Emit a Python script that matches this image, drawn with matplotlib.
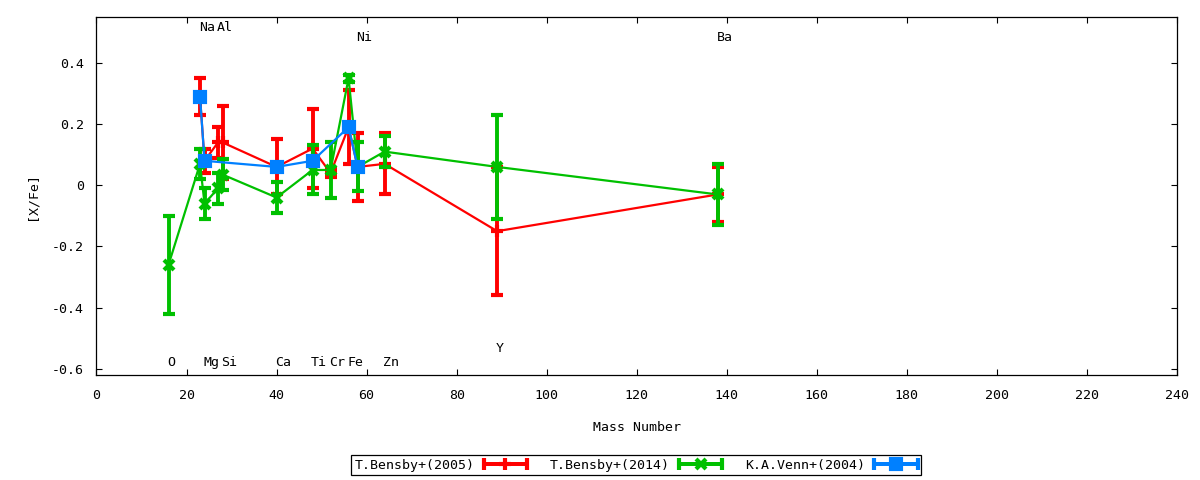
import matplotlib
matplotlib.use('Agg')
import matplotlib.pyplot as plt
from matplotlib.lines import Line2D
from matplotlib.legend_handler import HandlerLine2D

plt.rcParams['font.family'] = ['DejaVu Sans Mono']
plt.rcParams['font.size'] = 9.5

# Bensby 2005
mass_b05 = [23, 24, 27, 28, 40, 48, 52, 56, 58, 64, 89, 138]
val_b05 = [0.29, 0.08, 0.14, 0.14, 0.06, 0.12, 0.04, 0.19, 0.06, 0.07, -0.15, -0.03]
err_b05 = [0.06, 0.04, 0.05, 0.12, 0.09, 0.13, 0.012, 0.12, 0.11, 0.10, 0.21, 0.09]

# Bensby 2014
mass_b14 = [16, 23, 24, 27, 28, 40, 48, 52, 56, 58, 64, 89, 138]
val_b14 = [-0.26, 0.07, -0.06, -0.01, 0.035, -0.04, 0.05, 0.05, 0.35, 0.06, 0.11, 0.06, -0.03]
err_b14 = [0.16, 0.05, 0.05, 0.05, 0.05, 0.05, 0.08, 0.09, 0.012, 0.08, 0.05, 0.17, 0.10]

# Venn 2004
mass_v04 = [23, 24, 40, 48, 56, 58]
val_v04 = [0.29, 0.08, 0.06, 0.08, 0.19, 0.06]
err_v04 = [0, 0, 0, 0, 0, 0]

# element labels
el_names = ['Na', 'Al', 'Ni', 'Ba', 'O', 'Mg', 'Si', 'Ca', 'Ti', 'Cr', 'Fe', 'Zn', 'Y']
el_mass = [23, 27, 58, 138, 16, 24, 28, 40, 48, 52, 56, 64, 89]
el_y = [0.516, 0.516, 0.484, 0.484, -0.58, -0.58, -0.58, -0.58, -0.58, -0.58, -0.58, -0.58, -0.534]

series = [
    ('T.Bensby+(2005)', mass_b05, val_b05, err_b05, '#ff0000', '+', 8),
    ('T.Bensby+(2014)', mass_b14, val_b14, err_b14, '#00c000', 'x', 6.5),
    ('K.A.Venn+(2004)', mass_v04, val_v04, err_v04, '#0080ff', 's', 7),
]

fig = plt.figure(figsize=(12, 4.8), dpi=100)
ax = fig.add_axes([0.0804, 0.2188, 0.9004, 0.7458])

handles = []
hmap = {}
for i, (lab, m, v, e, c, mk, ms) in enumerate(series):
    ax.errorbar(m, v, yerr=e, color=c, lw=1.6, elinewidth=2.8, capsize=4,
                capthick=2.8, marker=mk, ms=ms, mew=3, mec=c, mfc=c,
                zorder=3 + i)
    caps = Line2D([], [], color=c, lw=2.8, marker='|', ms=9, mew=3)
    mid = Line2D([], [], color=c, lw=2.8, marker=mk, ms=ms, mew=3)
    hmap[caps] = HandlerLine2D(numpoints=2, marker_pad=0)
    hmap[mid] = HandlerLine2D(numpoints=1)
    handles.append((caps, mid))

for name, mx, my in zip(el_names, el_mass, el_y):
    ax.text(mx - 0.3, my, name, ha='left', va='center', fontsize=9.5)

ax.set_xlim(0, 240)
ax.set_ylim(-0.62, 0.55)
ax.set_xticks(range(0, 241, 20))
ax.set_yticks([-0.6, -0.4, -0.2, 0, 0.2, 0.4])
ax.set_yticklabels(['-0.6', '-0.4', '-0.2', '0', '0.2', '0.4'])
ax.tick_params(direction='in', length=4.5, width=0.8, top=True, right=True)
ax.tick_params(axis='y', pad=9)
ax.tick_params(axis='x', pad=10)
for s in ax.spines.values():
    s.set_linewidth(0.9)

ax.set_xlabel('Mass Number', labelpad=14)
ax.set_ylabel('[X/Fe]', labelpad=10)

leg = fig.legend(handles, [s[0] for s in series], handler_map=hmap, ncol=3,
                 loc='center', bbox_to_anchor=(0.53, 0.031), markerfirst=False,
                 handlelength=3.3, handletextpad=0.7, columnspacing=1.7,
                 borderpad=0.25, fancybox=False, edgecolor='black',
                 framealpha=1)
leg.get_frame().set_linewidth(0.9)

fig.savefig('out.png', dpi=100)
